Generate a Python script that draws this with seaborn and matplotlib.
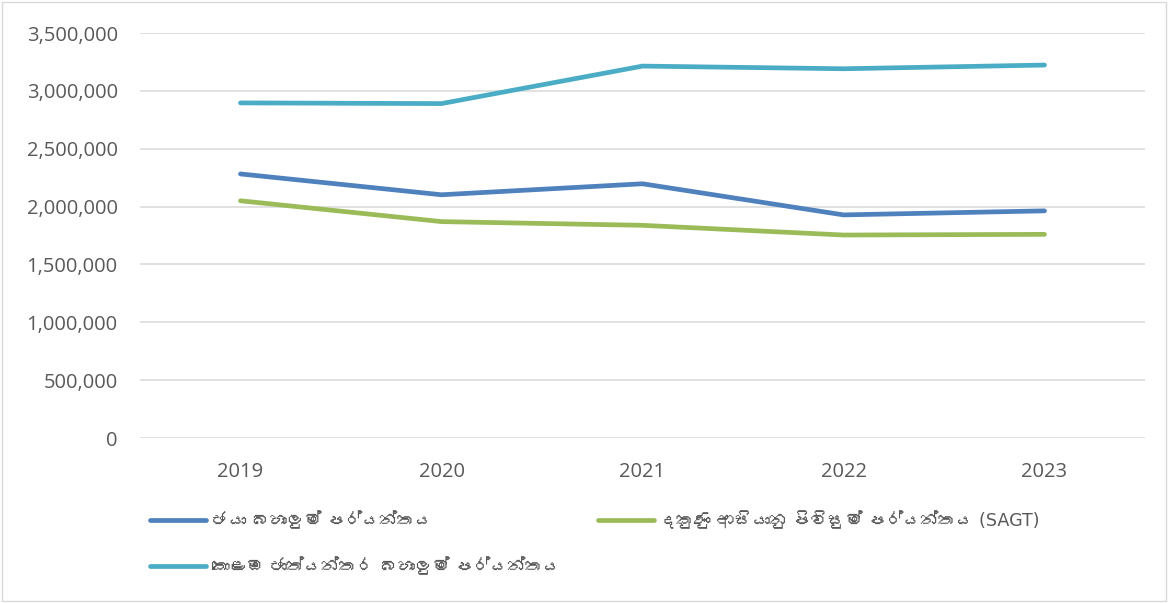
import matplotlib
matplotlib.use("Agg")
import matplotlib.pyplot as plt
import pandas as pd
import seaborn as sns
from matplotlib import font_manager, ft2font
from matplotlib.patches import Rectangle

# Container throughput (TEU) by terminal
years = ["2019", "2020", "2021", "2022", "2023"]
jaya = [2282000, 2102000, 2197000, 1928000, 1963000]
sagt = [2050000, 1870000, 1838000, 1754000, 1760000]
cict = [2896000, 2890000, 3214000, 3191000, 3223000]

terminal_names = [
    "ජයා බහාලුම් පර්යන්තය",
    "දකුණු ආසියානු පිවිසුම් පර්යන්තය (SAGT)",
    "කොළඹ ජාත්‍යන්තර බහාලුම් පර්යන්තය",
]
terminal_colors = ["#4F81BD", "#9BBB59", "#4BACC6"]
y_ticks = [0, 500000, 1000000, 1500000, 2000000, 2500000, 3000000, 3500000]


def find_sinhala_font():
    # look for any installed face that carries Sinhala glyphs
    for f in font_manager.fontManager.ttflist:
        try:
            cmap = ft2font.FT2Font(f.fname).get_charmap()
        except Exception:
            continue
        if 0x0DA2 in cmap and 0x0DB6 in cmap:
            return f.name
    return None


sns.set_theme(style="white")
families = ["Open Sans", "DejaVu Sans"]
sinhala = find_sinhala_font()
if sinhala:
    families.insert(1, sinhala)
plt.rcParams["font.family"] = families

# DejaVu first for the legend so the zero-width joiner stays invisible
legend_families = ["DejaVu Sans"] + ([sinhala] if sinhala else [])

df = pd.DataFrame({
    "year": years * 3,
    "value": jaya + sagt + cict,
    "terminal": [terminal_names[0]] * 5 + [terminal_names[1]] * 5 + [terminal_names[2]] * 5,
})

fig = plt.figure(figsize=(11.68, 6.03), dpi=100)
ax = fig.add_axes([140 / 1168, 1 - 438 / 603, 1005 / 1168, 405 / 603])

sns.lineplot(
    data=df, x="year", y="value", hue="terminal",
    hue_order=terminal_names, palette=dict(zip(terminal_names, terminal_colors)),
    sort=False, linewidth=3.4, solid_capstyle="round", legend=False, ax=ax,
)

ax.set_xlim(-0.5, len(years) - 0.5)
ax.set_ylim(0, 3500000)
ax.set_yticks(y_ticks)
ax.set_yticklabels([f"{v:,}" for v in y_ticks])
ax.set_xlabel("")
ax.set_ylabel("")
ax.grid(axis="y", color="#D9D9D9", linewidth=1.1)
ax.set_axisbelow(True)
for side in ["top", "right", "left", "bottom"]:
    ax.spines[side].set_visible(False)
ax.tick_params(axis="y", length=0, pad=16, labelsize=14.5, labelcolor="#595959")
ax.tick_params(axis="x", length=0, pad=17, labelsize=14.5, labelcolor="#595959")

# legend entries placed like the original (two columns, second row below)
lines = ax.get_lines()
legend_spots = [(150, 521), (598, 521), (150, 567)]
for line, name, (px, py) in zip(lines, terminal_names, legend_spots):
    leg = fig.legend(
        [line], [name], loc="center left",
        bbox_to_anchor=(px / 1168, 1 - py / 603),
        frameon=False, fontsize=12.6, handlelength=3.2, handletextpad=0.3,
        borderpad=0, borderaxespad=0,
    )
    for t in leg.get_texts():
        t.set_color("#595959")
        t.set_fontfamily(legend_families)

# light frame around the whole chart
fig.patches.append(Rectangle((0.002, 0.003), 0.996, 0.994, transform=fig.transFigure,
                             fill=False, edgecolor="#D9D9D9", linewidth=1))

fig.savefig("out.png", dpi=100)
